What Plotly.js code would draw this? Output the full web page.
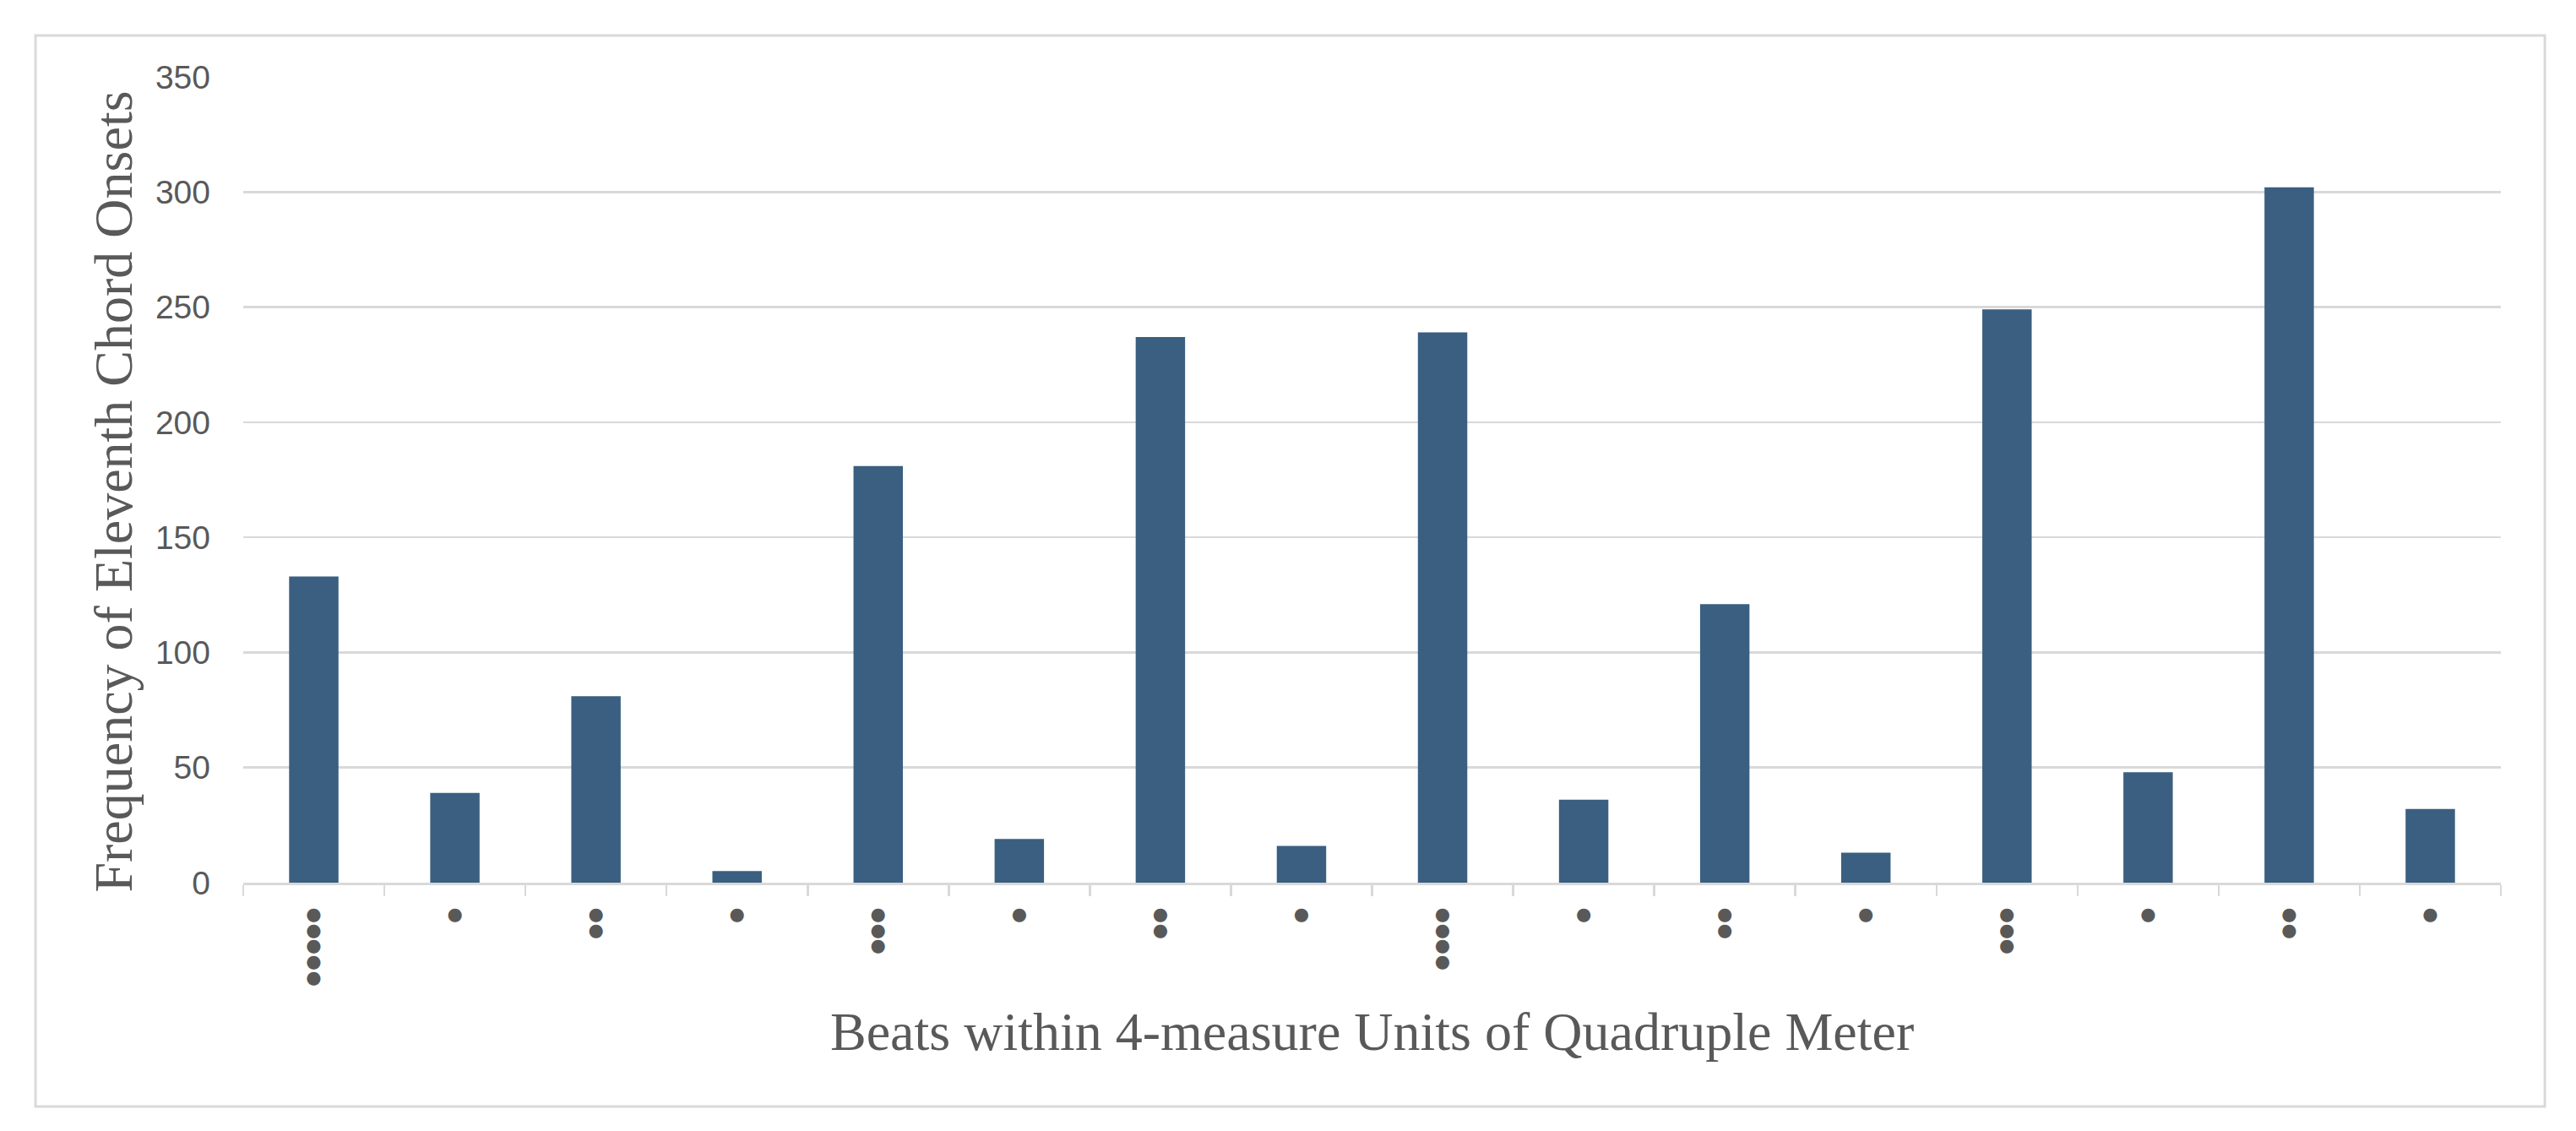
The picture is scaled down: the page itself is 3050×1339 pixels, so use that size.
<!DOCTYPE html>
<html>
<head>
<meta charset="utf-8">
<script src="https://cdn.plot.ly/plotly-3.0.1.min.js"></script>
<style>
  html, body { margin: 0; padding: 0; background: #fff; }
  #plot { width: 3050px; height: 1339px; }
</style>
</head>
<body>
<div id="plot"></div>
<script>
// beat positions within a 4-measure unit, dots = metric weight
var beats = ['b1','b2','b3','b4','b5','b6','b7','b8','b9','b10','b11','b12','b13','b14','b15','b16'];
var dotCounts = [5,1,2,1,3,1,2,1,4,1,2,1,3,1,2,1];
var onsets = [133,39,81,5,181,19,237,16,239,36,121,13,249,48,302,32];
var yTicks = [0,50,100,150,200,250,300,350];

var xTitle = 'Beats within 4-measure Units of Quadruple Meter';
var yTitle = 'Frequency of Eleventh Chord Onsets';

var grey = '#595959';
var lineGrey = '#d9d9d9';

function dotLabel(n){
  var parts = [];
  for(let i=0;i<n;i++){
    parts.push("<span style='font-size:21px'>●</span>");
  }
  return parts.join('<br>');
}

var trace = {
  type: 'bar',
  x: beats,
  y: onsets,
  marker: { color: '#3a5f80' },
  hoverinfo: 'y'
};

var layout = {
  width: 3050,
  height: 1339,
  margin: { l: 288, r: 89, t: 91, b: 294 },
  paper_bgcolor: '#ffffff',
  plot_bgcolor: '#ffffff',
  showlegend: false,
  bargap: 0.65,
  xaxis: {
    type: 'category',
    tickmode: 'array',
    tickvals: beats,
    ticktext: dotCounts.map(dotLabel),
    tickson: 'boundaries',
    ticks: 'outside',
    ticklen: 13,
    tickwidth: 2.5,
    tickcolor: lineGrey,
    showline: true,
    linecolor: lineGrey,
    linewidth: 3,
    showgrid: false,
    ticklabelstandoff: 23,
    tickfont: { family: 'DejaVu Sans', size: 14.6, color: grey },
    automargin: false
  },
  yaxis: {
    range: [0, 350],
    tickmode: 'array',
    tickvals: yTicks,
    showgrid: true,
    gridcolor: lineGrey,
    gridwidth: 2.5,
    zeroline: false,
    showline: false,
    ticks: '',
    ticklabelstandoff: 38,
    tickfont: { family: 'Liberation Sans, Arial, sans-serif', size: 39, color: grey },
    automargin: false
  },
  annotations: [
    {
      xref: 'paper', yref: 'paper',
      x: 0.5, y: -0.1845,
      xanchor: 'center', yanchor: 'middle',
      text: xTitle,
      showarrow: false,
      font: { family: 'Liberation Serif, Times New Roman, serif', size: 64, color: grey }
    },
    {
      xref: 'paper', yref: 'paper',
      x: -0.0576, y: 0.4848,
      xanchor: 'center', yanchor: 'middle',
      textangle: -90,
      text: yTitle,
      showarrow: false,
      font: { family: 'Liberation Serif, Times New Roman, serif', size: 64, color: grey }
    }
  ],
  shapes: [
    {
      type: 'rect',
      xref: 'paper', yref: 'paper',
      x0: -0.092, x1: 1.0195,
      y0: -0.2778, y1: 1.0514,
      line: { color: lineGrey, width: 3 },
      layer: 'below'
    }
  ]
};

var config = { staticPlot: true, displayModeBar: false };

Plotly.newPlot(document.getElementById('plot'), [trace], layout, config);
</script>
</body>
</html>
